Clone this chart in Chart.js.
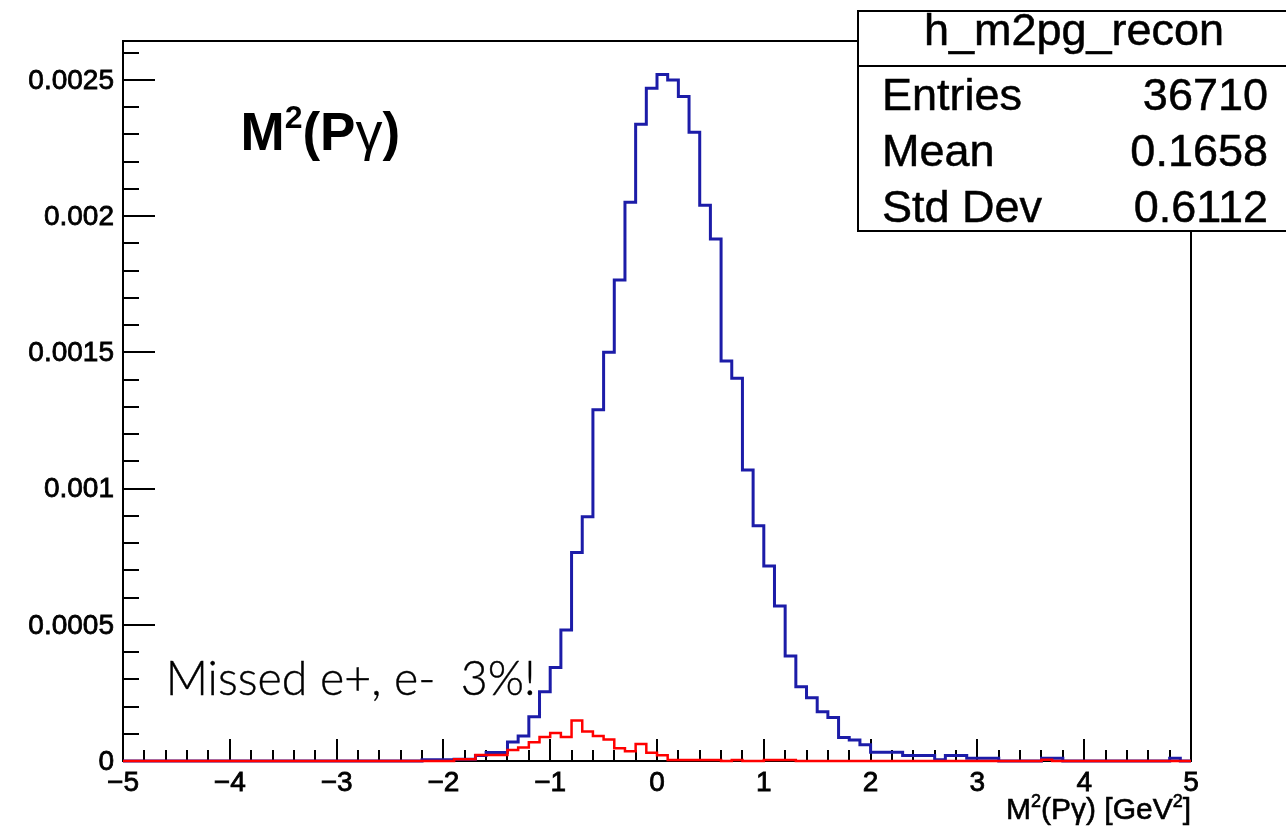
<!DOCTYPE html>
<html>
<head>
<meta charset="utf-8">
<title>h_m2pg_recon</title>
<script src="https://cdn.jsdelivr.net/npm/chart.js@4.4.1/dist/chart.umd.min.js"></script>
<style>
  html, body { margin: 0; padding: 0; background: #fff; overflow: hidden; }
  #wrap { position: relative; width: 1286px; height: 830px; }
</style>
</head>
<body>
<div id="wrap"><canvas id="hist"></canvas></div>
<script>
// ---------- Binning: 100 bins of 0.1 GeV^2 between -5 and 5
const xMin = -5, xMax = 5, nBins = 100;
const yMax = 0.002643;

// all reconstructed events (normalised), bin by bin from -5 upwards
const reconAll = [
  0, 0, 0, 0, 0, 0, 0, 0, 0, 0,
  0, 0, 0, 0, 0, 0, 0, 0, 0, 0,
  0, 0, 0, 0, 0, 0, 0, 0, 0.05e-4, 0.05e-4,
  0.05e-4, 0.06e-4, 0.06e-4, 0.2e-4, 0.31e-4, 0.31e-4, 0.7e-4, 0.92e-4, 1.62e-4, 2.54e-4,
  3.43e-4, 4.81e-4, 7.65e-4, 8.97e-4, 12.89e-4, 15.0e-4, 17.66e-4, 20.51e-4, 23.37e-4, 24.7e-4,
  25.2e-4, 25.0e-4, 24.39e-4, 23.08e-4, 20.4e-4, 19.16e-4, 14.68e-4, 14.05e-4, 10.68e-4, 8.64e-4,
  7.16e-4, 5.69e-4, 3.85e-4, 2.73e-4, 2.32e-4, 1.81e-4, 1.6e-4, 0.86e-4, 0.77e-4, 0.6e-4,
  0.32e-4, 0.32e-4, 0.32e-4, 0.2e-4, 0.2e-4, 0.2e-4, 0.05e-4, 0.2e-4, 0.2e-4, 0.1e-4,
  0.1e-4, 0.1e-4, 0, 0, 0, 0, 0.1e-4, 0.1e-4, 0, 0,
  0, 0, 0, 0, 0, 0, 0, 0, 0.1e-4, 0
];

// events where the e+ or e- was missed
const reconMissed = [
  0, 0, 0, 0, 0, 0, 0, 0, 0, 0,
  0, 0, 0, 0, 0, 0, 0, 0, 0, 0,
  0, 0, 0, 0, 0, 0, 0, 0, 0, 0,
  0, 0.06e-4, 0.06e-4, 0.22e-4, 0.22e-4, 0.22e-4, 0.4e-4, 0.5e-4, 0.69e-4, 0.88e-4,
  1.03e-4, 0.88e-4, 1.49e-4, 1.08e-4, 0.92e-4, 0.79e-4, 0.47e-4, 0.36e-4, 0.62e-4, 0.3e-4,
  0.21e-4, 0.04e-4, 0.04e-4, 0.04e-4, 0.04e-4, 0.04e-4, 0, 0.04e-4, 0, 0,
  0.04e-4, 0.04e-4, 0.04e-4, 0, 0, 0, 0, 0, 0, 0,
  0, 0, 0, 0, 0, 0, 0, 0, 0, 0,
  0, 0, 0, 0, 0, 0, 0.05e-4, 0, 0, 0,
  0, 0, 0, 0, 0, 0, 0, 0, 0, 0
];

const xTicks = [-5, -4, -3, -2, -1, 0, 1, 2, 3, 4, 5];
const xTickLabels = ['\u22125', '\u22124', '\u22123', '\u22122', '\u22121', '0', '1', '2', '3', '4', '5'];
const yTicks = [0, 0.0005, 0.001, 0.0015, 0.002, 0.0025];
const yTickLabels = ['0', '0.0005', '0.001', '0.0015', '0.002', '0.0025'];

const statsName = 'h_m2pg_recon';
const statsRows = [['Entries', '36710'], ['Mean', '0.1658'], ['Std Dev', '0.6112']];
const noteText = 'Missed e+, e-  3%!';

const SANS = '"Liberation Sans", Arial, Helvetica, sans-serif';

// ---------- Helpers
// one point per bin low edge plus the closing edge, drawn as steps
function toSteps(vals) {
  const w = (xMax - xMin) / nBins;
  const pts = vals.map((v, i) => ({ x: +(xMin + i * w).toFixed(2), y: v }));
  pts.push({ x: xMax, y: vals[vals.length - 1] });
  return pts;
}

// text with a hairline outline so it reads as heavy as the rest of the plot
function heavyText(ctx, s, x, y, w) {
  ctx.fillText(s, x, y);
  if (w) { ctx.lineWidth = w; ctx.strokeText(s, x, y); }
}

// draws a run of [text, font, dy] pieces left to right, returns end x
function drawPieces(ctx, pieces, x, y, w) {
  pieces.forEach(p => {
    ctx.font = p[1];
    heavyText(ctx, p[0], x, y + (p[2] || 0), w);
    x += ctx.measureText(p[0]).width;
  });
  return x;
}
function piecesWidth(ctx, pieces) {
  let w = 0;
  pieces.forEach(p => { ctx.font = p[1]; w += ctx.measureText(p[0]).width; });
  return w;
}

// ---------- Frame, ticks and axis labels in the ROOT style
const rootFrame = {
  id: 'rootFrame',
  beforeDatasetsDraw(chart) {
    const { ctx, chartArea: a, scales: { x, y } } = chart;
    ctx.save();
    ctx.strokeStyle = '#000';
    ctx.lineWidth = 2;
    ctx.strokeRect(a.left, a.top, a.right - a.left, a.bottom - a.top);

    ctx.beginPath();
    for (let k = 0; k <= 50; k++) {
      const px = Math.round(x.getPixelForValue(xMin + k * 0.2));
      const len = k % 5 === 0 ? 22 : 11;
      ctx.moveTo(px, a.bottom); ctx.lineTo(px, a.bottom - len);
    }
    for (let k = 0; k * 0.0001 <= yMax; k++) {
      const py = Math.round(y.getPixelForValue(k * 0.0001));
      const len = k % 5 === 0 ? 32 : 16;
      ctx.moveTo(a.left, py); ctx.lineTo(a.left + len, py);
    }
    ctx.stroke();

    ctx.fillStyle = '#000';
    ctx.font = '28px ' + SANS;
    ctx.textAlign = 'center';
    ctx.textBaseline = 'top';
    xTicks.forEach((v, i) => heavyText(ctx, xTickLabels[i], x.getPixelForValue(v), a.bottom + 8, 0.8));
    ctx.textAlign = 'right';
    ctx.textBaseline = 'middle';
    yTicks.forEach((v, i) => heavyText(ctx, yTickLabels[i], a.left - 9, y.getPixelForValue(v) + 1, 0.8));

    // x axis title, right aligned to the frame
    ctx.textAlign = 'left';
    ctx.textBaseline = 'alphabetic';
    const f = '30px ' + SANS, fs = '18px ' + SANS;
    const title = [['M', f], ['2', fs, -12], ['(P', f], ['\u03b3', f], [') [GeV', f], ['2', fs, -12], [']', f]];
    drawPieces(ctx, title, a.right - piecesWidth(ctx, title), a.bottom + 58, 0.6);
    ctx.restore();
  },
  afterDraw(chart) {
    const { ctx, chartArea: a, scales: { x, y } } = chart;
    ctx.save();
    ctx.fillStyle = '#000';
    ctx.strokeStyle = '#000';
    ctx.textBaseline = 'alphabetic';

    // label inside the frame
    const b = 'bold 53px ' + SANS;
    drawPieces(ctx, [['M', b], ['2', 'bold 32px ' + SANS, -22], ['(P', b], ['\u03b3', '54px ' + SANS], [')', b]],
      x.getPixelForValue(-3.9), y.getPixelForValue(0.002243));

    // annotation for the missed-lepton sample, sized to span 370px
    const noteFont = 'Lato, "Open Sans", sans-serif';
    ctx.font = '300 42px ' + noteFont;
    const noteSize = 42 * 370 / ctx.measureText(noteText).width;
    ctx.font = '300 ' + noteSize.toFixed(1) + 'px ' + noteFont;
    heavyText(ctx, noteText, x.getPixelForValue(-4.6), y.getPixelForValue(0.000242), 0.4);

    // statistics box
    const bx = 858, by = 11, bw = 440, bh = 220, split = 55;
    ctx.fillStyle = '#fff';
    ctx.fillRect(bx, by, bw, bh);
    ctx.lineWidth = 2;
    ctx.strokeRect(bx, by, bw, bh);
    ctx.beginPath(); ctx.moveTo(bx, by + split); ctx.lineTo(bx + bw, by + split); ctx.stroke();
    ctx.fillStyle = '#000';
    ctx.font = '45px ' + SANS;
    ctx.textAlign = 'center';
    heavyText(ctx, statsName, 1074, 45, 0.5);
    statsRows.forEach((r, i) => {
      const ty = 110 + i * 56;
      ctx.textAlign = 'left'; heavyText(ctx, r[0], 882, ty, 0.5);
      ctx.textAlign = 'right'; heavyText(ctx, r[1], 1268, ty, 0.5);
    });
    ctx.restore();
  }
};

// ---------- Chart
const ctx = document.getElementById('hist').getContext('2d');
const histChart = new Chart(ctx, {
  type: 'line',
  data: {
    datasets: [
      { label: 'missed e+/e-', data: toSteps(reconMissed), borderColor: '#ff0000', borderWidth: 2.5,
        stepped: 'before', pointRadius: 0, fill: false, clip: false, order: 0 },
      { label: statsName, data: toSteps(reconAll), borderColor: '#1c1ca8', borderWidth: 3,
        stepped: 'before', pointRadius: 0, fill: false, clip: false, order: 1 }
    ]
  },
  options: {
    responsive: true,
    maintainAspectRatio: false,
    animation: false,
    layout: { padding: { left: 123, right: 95, top: 41, bottom: 69 } },
    plugins: { legend: { display: false }, tooltip: { enabled: false } },
    scales: {
      x: { type: 'linear', min: xMin, max: xMax, display: false },
      y: { type: 'linear', min: 0, max: yMax, display: false }
    }
  },
  plugins: [rootFrame]
});
</script>
</body>
</html>
